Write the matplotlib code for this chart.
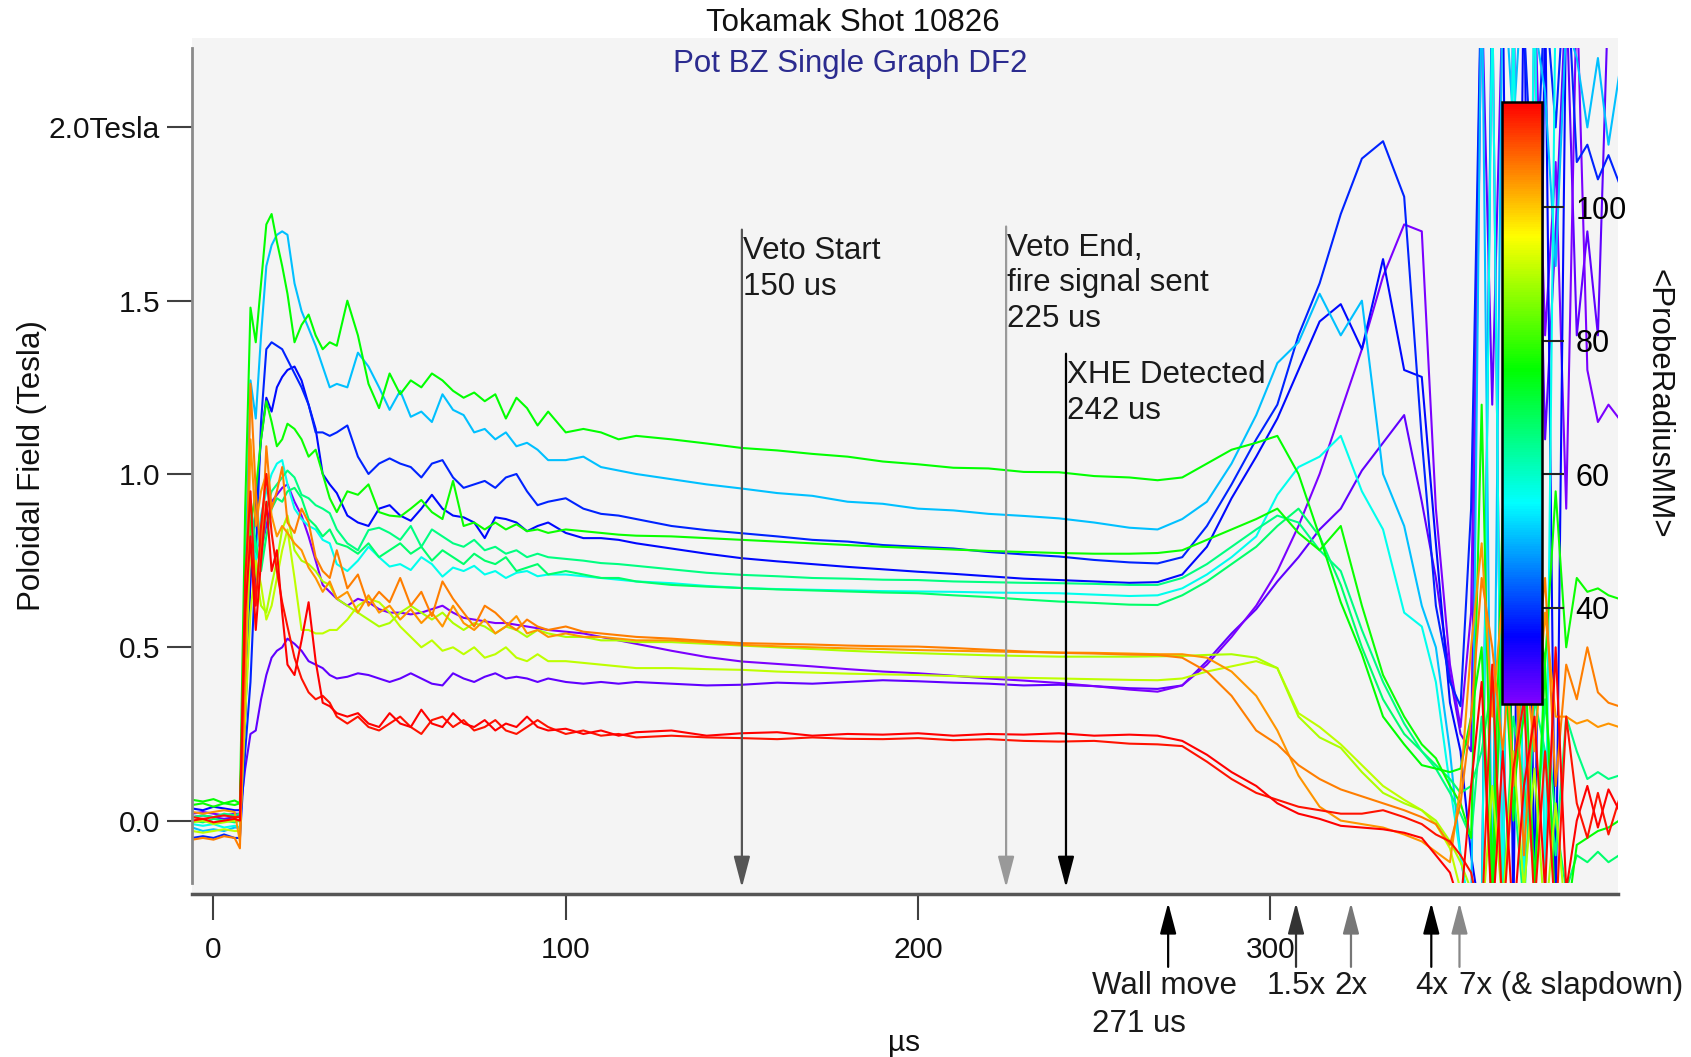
import matplotlib
matplotlib.use("Agg")
import matplotlib.pyplot as plt
from matplotlib.colors import LinearSegmentedColormap, Normalize
from matplotlib.patches import Rectangle
import matplotlib.cm as cm

plt.rcParams['font.family'] = ['Liberation Sans', 'DejaVu Sans']

# ---------------- data ----------------
time_us = [-6, -3, 0, 3, 6,
           7.5, 9, 10.5, 12, 13.5, 15, 16.5, 18, 19.5, 21, 23, 25, 27, 29, 31, 33, 35,
           38, 41, 44, 47, 50, 53, 56, 59, 62, 65, 68, 71, 74, 77, 80, 83, 86, 89, 92, 95,
           100, 105, 110, 115, 120,
           130, 140, 150, 160, 170, 180, 190, 200, 210, 220, 230, 240, 250, 260, 268,
           275, 282, 289, 296, 302, 308, 314, 320, 326, 332, 338, 343, 347, 351, 354, 357,
           360, 363, 366, 369, 372, 375, 378, 381, 384, 387, 390, 393, 396, 399]

g1 = [0.06, 0.055, 0.062, 0.05, 0.058,
      0.05, 0.9, 1.48, 1.38, 1.55, 1.72, 1.75, 1.67, 1.6, 1.52, 1.38, 1.43, 1.46, 1.40, 1.36, 1.38, 1.37,
      1.50, 1.40, 1.26, 1.19, 1.29, 1.23, 1.27, 1.25, 1.29, 1.27, 1.24, 1.22, 1.235, 1.21, 1.23, 1.16, 1.22, 1.19, 1.14, 1.18,
      1.12, 1.13, 1.12, 1.10, 1.11,
      1.10, 1.088, 1.075, 1.068, 1.058, 1.05, 1.036, 1.028, 1.018, 1.016, 1.006, 1.005, 0.994, 0.99, 0.982,
      0.99, 1.03, 1.07, 1.09, 1.11, 1.0, 0.82, 0.63, 0.48, 0.30, 0.22, 0.16, 0.15, 0.14, 0.15, 0.3,
      0.5, -0.3, 0.6, 0.0, 0.55, -0.2, 0.45, -0.3, -0.3, -0.07, -0.05, -0.03, -0.02, 0.0]

c1 = [-0.02, -0.03, -0.025, -0.03, -0.02,
      -0.02, 0.7, 1.27, 1.16, 1.4, 1.6, 1.66, 1.69, 1.70, 1.69, 1.55, 1.47, 1.42, 1.37, 1.31, 1.25, 1.26,
      1.25, 1.35, 1.31, 1.25, 1.185, 1.24, 1.165, 1.18, 1.15, 1.23, 1.185, 1.17, 1.12, 1.13, 1.10, 1.12, 1.08, 1.09, 1.07, 1.04,
      1.04, 1.05, 1.02, 1.01, 1.0,
      0.985, 0.97, 0.958, 0.945, 0.937, 0.92, 0.914, 0.9, 0.895, 0.885, 0.879, 0.872, 0.86, 0.845, 0.84,
      0.87, 0.92, 1.03, 1.17, 1.32, 1.38, 1.52, 1.40, 1.50, 1.0, 0.85, 0.62, 0.5, 0.2, -0.1, -0.3,
      2.5, -0.3, 2.5, 2.0, 2.5, 2.3, 2.1, 1.6, 2.3, 2.2, 2.0, 2.2, 1.95, 2.15]

b1 = [-0.05, -0.045, -0.05, -0.04, -0.05,
      -0.05, 0.2, 0.4, 0.75, 1.15, 1.36, 1.38, 1.37, 1.36, 1.33, 1.29, 1.25, 1.2, 1.12, 1.12, 1.11, 1.12,
      1.14, 1.05, 1.0, 1.03, 1.045, 1.03, 1.02, 0.99, 1.03, 1.04, 0.99, 0.96, 0.97, 0.98, 0.96, 0.99, 1.0, 0.95, 0.91, 0.92,
      0.93, 0.9, 0.885, 0.88, 0.87,
      0.85, 0.838, 0.829, 0.82, 0.81, 0.805, 0.795, 0.79, 0.785, 0.775, 0.768, 0.762, 0.752, 0.745, 0.742,
      0.76, 0.85, 0.97, 1.1, 1.2, 1.4, 1.55, 1.75, 1.91, 1.96, 1.8, 1.1, 0.62, 0.4, 0.33, 0.9,
      2.5, 2.6, 2.4, 2.5, 2.3, 1.7, 2.4, 2.0, 2.5, 1.9, 1.95, 1.85, 1.92, 1.84]

b2 = [0.035, 0.03, 0.04, 0.035, 0.03,
      0.03, 0.3, 0.7, 0.9, 1.1, 1.22, 1.18, 1.25, 1.28, 1.3, 1.31, 1.27, 1.2, 1.13, 1.0, 0.97, 0.945,
      0.88, 0.86, 0.85, 0.9, 0.91, 0.88, 0.865, 0.9, 0.94, 0.9, 0.88, 0.875, 0.86, 0.815, 0.875, 0.87, 0.86, 0.835, 0.85, 0.86,
      0.83, 0.815, 0.815, 0.81, 0.8,
      0.785, 0.77, 0.757, 0.748, 0.74, 0.732, 0.725, 0.718, 0.712, 0.705, 0.698, 0.694, 0.69, 0.686, 0.688,
      0.71, 0.79, 0.93, 1.05, 1.16, 1.3, 1.44, 1.49, 1.36, 1.62, 1.3, 1.28, 0.8, 0.34, 0.2, -0.1,
      -0.3, 2.5, 2.4, -0.3, 2.5, -0.3, 2.4, -0.3, 2.4, 2.5, 2.5, 2.5, 2.5, 2.5]

g2 = [0.045, 0.05, 0.04, 0.05, 0.045,
      0.05, 0.5, 0.85, 0.95, 1.1, 1.21, 1.15, 1.08, 1.1, 1.145, 1.13, 1.1, 1.05, 1.07, 1.0, 0.93, 0.89,
      0.95, 0.94, 0.97, 0.89, 0.88, 0.877, 0.9, 0.925, 0.89, 0.87, 0.98, 0.85, 0.86, 0.84, 0.86, 0.84, 0.855, 0.835, 0.84, 0.83,
      0.84, 0.835, 0.83, 0.825, 0.822,
      0.82, 0.815, 0.81, 0.805, 0.8, 0.795, 0.79, 0.786, 0.782, 0.778, 0.775, 0.772, 0.77, 0.77, 0.772,
      0.78, 0.81, 0.84, 0.87, 0.9, 0.83, 0.78, 0.85, 0.62, 0.42, 0.3, 0.22, 0.18, 0.1, 0.05, -0.05,
      1.2, -0.2, 0.9, 0.1, 0.3, 0.7, 0.45, 0.95, 0.5, 0.7, 0.66, 0.67, 0.65, 0.64]

g3 = [0.01, 0.015, 0.01, 0.02, 0.015,
      0.02, 0.5, 0.9, 0.78, 0.74, 0.9, 0.95, 0.97, 0.99, 1.01, 0.99, 0.94, 0.93, 0.91, 0.9, 0.887, 0.84,
      0.8, 0.78, 0.838, 0.845, 0.83, 0.81, 0.85, 0.79, 0.84, 0.82, 0.8, 0.79, 0.81, 0.78, 0.79, 0.77, 0.78, 0.76, 0.77, 0.76,
      0.755, 0.75, 0.743, 0.74, 0.735,
      0.725, 0.715, 0.709, 0.705, 0.7, 0.698, 0.695, 0.694, 0.69, 0.688, 0.686, 0.685, 0.683, 0.68, 0.68,
      0.7, 0.74, 0.79, 0.84, 0.88, 0.86, 0.78, 0.72, 0.55, 0.4, 0.28, 0.2, 0.15, 0.08, 0.02, -0.05,
      0.3, -0.2, 0.5, 0.1, -0.25, 0.35, 0.2, -0.1, 0.3, 0.2, 0.12, 0.14, 0.12, 0.13]

c2 = [-0.01, -0.015, -0.01, -0.02, -0.015,
      -0.02, 0.5, 0.85, 0.75, 0.88, 0.95, 1.0, 1.03, 1.04, 0.97, 0.9, 0.87, 0.85, 0.84, 0.81, 0.8, 0.74,
      0.72, 0.75, 0.79, 0.76, 0.733, 0.74, 0.723, 0.76, 0.74, 0.704, 0.73, 0.72, 0.735, 0.71, 0.72, 0.70, 0.715, 0.72, 0.705, 0.71,
      0.71, 0.705, 0.70, 0.695, 0.69,
      0.685, 0.677, 0.671, 0.668, 0.666, 0.664, 0.662, 0.661, 0.66, 0.658, 0.657, 0.656, 0.652, 0.648, 0.65,
      0.67, 0.71, 0.76, 0.82, 0.94, 1.02, 1.05, 1.11, 0.95, 0.84, 0.6, 0.56, 0.4, 0.1, -0.1, -0.3,
      -0.3, 2.4, -0.3, 2.4, -0.3, 2.5, -0.3, 2.4, 2.5, 2.5, 2.4, 2.5, 2.5, 2.5]

g4 = [0.0, -0.005, 0.005, 0.0, -0.005,
      0.0, 0.6, 0.92, 0.8, 0.72, 0.82, 0.9, 0.93, 0.92, 0.95, 0.96, 0.93, 0.87, 0.85, 0.82, 0.84, 0.80,
      0.79, 0.77, 0.80, 0.76, 0.78, 0.8, 0.77, 0.79, 0.75, 0.78, 0.76, 0.74, 0.77, 0.75, 0.74, 0.76, 0.72, 0.73, 0.74, 0.71,
      0.72, 0.71, 0.70, 0.70, 0.69,
      0.68, 0.675, 0.671, 0.667, 0.664, 0.661, 0.658, 0.656, 0.65, 0.645, 0.638, 0.632, 0.628, 0.623, 0.622,
      0.65, 0.69, 0.74, 0.79, 0.85, 0.9, 0.82, 0.68, 0.5, 0.35, 0.25, 0.2, 0.16, 0.12, 0.08, 0.1,
      0.2, 0.4, -0.25, 0.3, 0.1, -0.15, 0.35, 0.0, -0.2, -0.1, -0.12, -0.09, -0.12, -0.1]

o1 = [-0.055, -0.05, -0.055, -0.045, -0.05,
      -0.08, 0.5, 1.26, 0.95, 0.75, 1.08, 0.9, 0.95, 1.02, 0.86, 0.83, 0.9, 0.86, 0.76, 0.72, 0.70, 0.78,
      0.67, 0.71, 0.62, 0.66, 0.63, 0.70, 0.62, 0.66, 0.59, 0.69, 0.64, 0.6, 0.56, 0.62, 0.6, 0.57, 0.55, 0.58, 0.56, 0.55,
      0.56, 0.545, 0.54, 0.535, 0.53,
      0.525, 0.518, 0.512, 0.51, 0.508, 0.505, 0.503, 0.502, 0.498, 0.493, 0.488, 0.484, 0.482, 0.479, 0.478,
      0.47, 0.43, 0.36, 0.26, 0.22, 0.16, 0.12, 0.09, 0.07, 0.05, 0.03, 0.01, -0.01, -0.07, 0.05, 0.3,
      0.7, 0.5, 0.2, 0.6, -0.1, 0.4, 0.7, 0.1, 0.45, 0.35, 0.5, 0.37, 0.34, 0.33]

o2 = [0.025, 0.02, 0.025, 0.03, 0.025,
      -0.06, 0.4, 1.1, 0.85, 0.95, 1.0, 0.88, 0.82, 0.85, 0.83, 0.8, 0.78, 0.73, 0.7, 0.66, 0.69, 0.64,
      0.66, 0.6, 0.65, 0.6, 0.62, 0.58, 0.61, 0.57, 0.6, 0.56, 0.62, 0.57, 0.55, 0.58, 0.54, 0.56, 0.59, 0.54, 0.55, 0.53,
      0.54, 0.53, 0.53, 0.525, 0.52,
      0.52, 0.514, 0.507, 0.503, 0.5, 0.497, 0.495, 0.492, 0.49, 0.488, 0.486, 0.485, 0.484, 0.482, 0.48,
      0.48, 0.47, 0.43, 0.36, 0.26, 0.13, 0.04, 0.0, -0.01, -0.02, -0.04, -0.06, -0.09, -0.12, 0.1, 0.5,
      0.8, 0.3, 0.65, 0.1, 0.5, 0.2, 0.6, 0.3, 0.3, 0.28, 0.29, 0.27, 0.28, 0.27]

y1 = [-0.005, 0.0, -0.01, -0.005, 0.0,
      0.0, 0.4, 0.8, 0.72, 0.62, 0.6, 0.68, 0.75, 0.84, 0.88, 0.78, 0.75, 0.74, 0.72, 0.69, 0.68, 0.64,
      0.62, 0.6, 0.58, 0.56, 0.57, 0.6, 0.62, 0.6, 0.58, 0.6, 0.57, 0.55, 0.57, 0.56, 0.54, 0.56, 0.55, 0.53, 0.55, 0.54,
      0.53, 0.53, 0.52, 0.52, 0.515,
      0.515, 0.51, 0.505, 0.5, 0.495, 0.49, 0.486, 0.483, 0.48, 0.477, 0.475, 0.473, 0.473, 0.473, 0.474,
      0.475, 0.478, 0.48, 0.47, 0.44, 0.3, 0.24, 0.21, 0.14, 0.08, 0.05, 0.03, 0.0, -0.06, -0.12, -0.2,
      -0.3, 0.1, -0.25, 0.2, -0.2, 0.15, -0.3, 0.05, -0.3, -0.3, -0.3, -0.3, -0.3, -0.3]

y2 = [-0.03, -0.035, -0.03, -0.025, -0.03,
      -0.03, 0.3, 0.6, 0.75, 0.68, 0.58, 0.62, 0.7, 0.78, 0.84, 0.7, 0.55, 0.55, 0.54, 0.54, 0.55, 0.55,
      0.58, 0.62, 0.64, 0.63, 0.6, 0.56, 0.53, 0.5, 0.52, 0.49, 0.5, 0.48, 0.5, 0.47, 0.48, 0.5, 0.47, 0.46, 0.48, 0.46,
      0.46, 0.455, 0.45, 0.445, 0.44,
      0.44, 0.437, 0.435, 0.43, 0.427, 0.424, 0.422, 0.42, 0.417, 0.414, 0.412, 0.41, 0.408, 0.406, 0.405,
      0.41, 0.43, 0.445, 0.46, 0.44, 0.31, 0.27, 0.22, 0.16, 0.1, 0.06, 0.03, -0.01, -0.08, -0.2, -0.3,
      -0.3, -0.3, -0.3, -0.3, -0.3, -0.3, -0.3, -0.3, -0.3, -0.3, -0.3, -0.3, -0.3, -0.3]

p1 = [0.02, 0.025, 0.02, 0.015, 0.02,
      0.02, 0.3, 0.7, 0.82, 0.78, 0.85, 0.92, 0.94, 0.96, 0.97, 0.92, 0.88, 0.82, 0.75, 0.68, 0.66, 0.64,
      0.62, 0.64, 0.63, 0.61, 0.6, 0.6, 0.595, 0.6, 0.61, 0.62, 0.6, 0.585, 0.58, 0.575, 0.57, 0.57, 0.565, 0.56, 0.555, 0.55,
      0.545, 0.54, 0.53, 0.52, 0.51,
      0.49, 0.472, 0.459, 0.452, 0.445, 0.437, 0.43, 0.425, 0.418, 0.41, 0.404, 0.397, 0.388, 0.378, 0.372,
      0.39, 0.45, 0.53, 0.62, 0.72, 0.85, 1.0, 1.18, 1.36, 1.57, 1.72, 1.7, 0.9, 0.45, 0.27, 0.6,
      2.5, 2.4, -0.3, 2.4, 2.5, 2.4, 1.4, 1.9, 0.9, 2.4, 1.3, 1.15, 1.2, 1.16]

p2 = [0.01, 0.015, 0.01, 0.005, 0.01,
      0.02, 0.15, 0.25, 0.26, 0.35, 0.42, 0.47, 0.49, 0.5, 0.525, 0.51, 0.49, 0.46, 0.45, 0.44, 0.42, 0.41,
      0.415, 0.425, 0.42, 0.41, 0.4, 0.41, 0.425, 0.41, 0.395, 0.39, 0.425, 0.41, 0.4, 0.415, 0.425, 0.41, 0.415, 0.41, 0.4, 0.41,
      0.4, 0.395, 0.4, 0.395, 0.4,
      0.395, 0.39, 0.392, 0.398, 0.395, 0.4, 0.405, 0.402, 0.398, 0.395, 0.39, 0.392, 0.388, 0.382, 0.38,
      0.39, 0.46, 0.54, 0.61, 0.69, 0.76, 0.84, 0.9, 1.01, 1.09, 1.17, 0.92, 0.7, 0.42, 0.25, 0.2,
      2.4, 1.2, 2.4, 2.5, -0.3, 2.4, 1.1, 1.7, 2.4, 1.4, 1.7, 1.4, 2.4, 2.5]

r1 = [0.0, 0.005, -0.005, 0.0, 0.005,
      0.0, 0.6, 0.82, 0.55, 0.75, 0.92, 0.72, 0.78, 0.6, 0.45, 0.42, 0.52, 0.63, 0.46, 0.34, 0.33, 0.31,
      0.30, 0.31, 0.28, 0.27, 0.31, 0.28, 0.27, 0.32, 0.28, 0.27, 0.31, 0.28, 0.27, 0.29, 0.26, 0.28, 0.27, 0.30, 0.27, 0.26,
      0.265, 0.25, 0.26, 0.245, 0.255,
      0.26, 0.245, 0.252, 0.255, 0.245, 0.25, 0.248, 0.252, 0.245, 0.25, 0.248, 0.252, 0.245, 0.248, 0.245,
      0.23, 0.19, 0.14, 0.1, 0.05, 0.02, 0.005, -0.015, -0.02, -0.025, -0.035, -0.05, -0.1, -0.15, -0.25, 0.1,
      0.4, -0.3, 0.2, -0.3, 0.1, 0.3, -0.2, 0.5, -0.2, 0.0, 0.1, -0.02, 0.09, 0.03]

r2 = [0.01, 0.005, 0.01, 0.015, 0.01,
      0.01, 0.7, 0.95, 0.62, 0.85, 1.0, 0.83, 0.72, 0.63, 0.56, 0.47, 0.41, 0.37, 0.35, 0.36, 0.34, 0.30,
      0.28, 0.3, 0.27, 0.26, 0.28, 0.3, 0.27, 0.25, 0.29, 0.3, 0.27, 0.29, 0.26, 0.27, 0.29, 0.26, 0.25, 0.27, 0.29, 0.27,
      0.25, 0.26, 0.245, 0.25, 0.24,
      0.245, 0.24, 0.238, 0.235, 0.24, 0.236, 0.235, 0.238, 0.232, 0.235, 0.23, 0.228, 0.23, 0.222, 0.22,
      0.215, 0.17, 0.12, 0.08, 0.06, 0.04, 0.03, 0.02, 0.02, 0.03, 0.01, -0.01, -0.04, -0.06, -0.1, -0.15,
      -0.3, 0.45, -0.3, 0.15, 0.35, -0.25, 0.2, -0.3, 0.3, 0.05, -0.05, 0.08, -0.04, 0.06]

# probe radius (mm) of each trace -> colour
probe_names = ['P2', 'P1', 'B2', 'B1', 'C1', 'C2', 'G4', 'G3', 'G2', 'G1', 'Y2', 'Y1', 'O2', 'O1', 'R2', 'R1']
probe_radius_mm = [28.3, 26.3, 36.3, 38.3, 50.7, 57.3, 67.4, 65.7, 76.4, 75.7, 90.7, 89.1, 104.1, 105.8, 114.1, 115.8]
probe_values = [p2, p1, b2, b1, c1, c2, g4, g3, g2, g1, y2, y1, o2, o1, r2, r1]

cbar_ticks = [40, 60, 80, 100]
x_ticks = [0, 100, 200, 300]
y_ticks = [0.0, 0.5, 1.0, 1.5, 2.0]
y_ticklabels = ['0.0', '0.5', '1.0', '1.5', '2.0Tesla']

# ---------------- figure ----------------
W, H = 1691, 1057
fig = plt.figure(figsize=(W / 100, H / 100), dpi=100)


def fx(px):
    return px / W


def fy(py):
    return 1 - py / H


fig.add_artist(Rectangle((fx(192), fy(893)), (1618 - 192) / W, (893 - 38) / H,
                         transform=fig.transFigure, facecolor='#f4f4f4',
                         edgecolor='none', zorder=-5))

ax = fig.add_axes([fx(192), fy(883), (1618 - 192) / W, (883 - 48) / H])
ax.set_facecolor('none')

cmap = LinearSegmentedColormap.from_list(
    'igor_rainbow',
    [(0.0, (0.5, 0.0, 1.0)), (30 / 270, (0.0, 0.0, 1.0)), (90 / 270, (0.0, 1.0, 1.0)),
     (150 / 270, (0.0, 1.0, 0.0)), (210 / 270, (1.0, 1.0, 0.0)), (1.0, (1.0, 0.0, 0.0))])
norm = Normalize(vmin=25.6, vmax=115.8)

for name, rad, vals in zip(probe_names, probe_radius_mm, probe_values):
    ax.plot(time_us, vals, color=cmap(norm(rad)), lw=1.5, solid_joinstyle='round')

ax.set_xlim(-6.1, 398.7)
ax.set_ylim(-0.18, 2.229)

for s in ['top', 'right']:
    ax.spines[s].set_visible(False)
ax.spines['left'].set_color('#8a8a8a')
ax.spines['left'].set_linewidth(2)
ax.spines['bottom'].set_position(('outward', 8))
ax.spines['bottom'].set_color('#555555')
ax.spines['bottom'].set_linewidth(2.5)

ax.set_xticks(x_ticks)
ax.set_xticklabels([str(v) for v in x_ticks])
ax.set_yticks(y_ticks)
ax.set_yticklabels(y_ticklabels)
ax.tick_params(axis='x', direction='out', length=18.5, width=1.5, color='#404040',
               pad=12, labelsize=21.5, labelcolor='#111111')
ax.tick_params(axis='y', direction='out', length=18, width=1.5, color='#404040',
               pad=5, labelsize=21.5, labelcolor='#111111')

# titles and axis labels
fig.text(fx(853), fy(23), 'Tokamak Shot 10826', ha='center', va='center',
         fontsize=22.5, color='#111111')
fig.text(fx(850), fy(64), 'Pot BZ Single Graph DF2', ha='center', va='center',
         fontsize=22.5, color='#2b2b8f')
fig.text(fx(32), fy(466), 'Poloidal Field (Tesla)', ha='center', va='center',
         rotation=90, fontsize=22.5, color='#111111')
fig.text(fx(904), fy(1043), 'µs', ha='center', va='center', fontsize=21.5, color='#111111')

# event markers inside the plot (arrows pointing down); label y = baseline of last line
top_events = [
    ('Veto Start\n150 us', 150, 1.705, 1.517, '#555555'),
    ('Veto End,\nfire signal sent\n225 us', 225, 1.714, 1.424, '#999999'),
    ('XHE Detected\n242 us', 242, 1.347, 1.159, '#000000'),
]
for label, t, ytop, ybase, col in top_events:
    ax.annotate('', xy=(t, -0.193), xytext=(t, ytop), xycoords='data',
                arrowprops=dict(arrowstyle='-|>,head_length=0.95,head_width=0.25',
                                color=col, lw=1.6, shrinkA=0, shrinkB=0,
                                mutation_scale=20),
                annotation_clip=False, zorder=6)
    ax.text(t + 0.2, ybase, label, ha='left', va='baseline', fontsize=22.5,
            color='#1a1a1a', linespacing=1.25, zorder=7)

# event markers below the axis (arrows pointing up)
bottom_events = [
    (271.0, '#000000'),
    (307.3, '#333333'),
    (322.9, '#777777'),
    (345.7, '#000000'),
    (353.7, '#888888'),
]
for t, col in bottom_events:
    ax.annotate('', xy=(t, -0.237), xytext=(t, -0.422), xycoords='data',
                arrowprops=dict(arrowstyle='-|>,head_length=0.95,head_width=0.25',
                                color=col, lw=1.6, shrinkA=0, shrinkB=0,
                                mutation_scale=20),
                annotation_clip=False, zorder=6)

ax.text(249.3, -0.610, 'Wall move\n271 us', ha='left', va='baseline', fontsize=22.5,
        color='#1a1a1a', linespacing=1.35, clip_on=False)
ax.text(307.3, -0.501, '1.5x', ha='center', va='baseline', fontsize=22.5, color='#1a1a1a', clip_on=False)
ax.text(322.9, -0.501, '2x', ha='center', va='baseline', fontsize=22.5, color='#1a1a1a', clip_on=False)
ax.text(345.7, -0.501, '4x', ha='center', va='baseline', fontsize=22.5, color='#1a1a1a', clip_on=False)
ax.text(353.7, -0.501, '7x (& slapdown)', ha='left', va='baseline', fontsize=22.5,
        color='#1a1a1a', clip_on=False)

# colour scale
cax = fig.add_axes([fx(1502), fy(704), 40 / W, (704 - 102) / H])
cb = fig.colorbar(cm.ScalarMappable(norm=norm, cmap=cmap), cax=cax)
cb.set_ticks(cbar_ticks)
cb.set_ticklabels([str(v) for v in cbar_ticks])
cb.outline.set_linewidth(1.8)
cb.outline.set_edgecolor('black')
cax.tick_params(length=16, width=1.5, pad=8, labelsize=22, color='#222222')
fig.text(fx(1658), fy(404), '<ProbeRadiusMM>', ha='center', va='center', rotation=-90,
         fontsize=22.5, color='#111111')

fig.savefig('out.png', dpi=100)
